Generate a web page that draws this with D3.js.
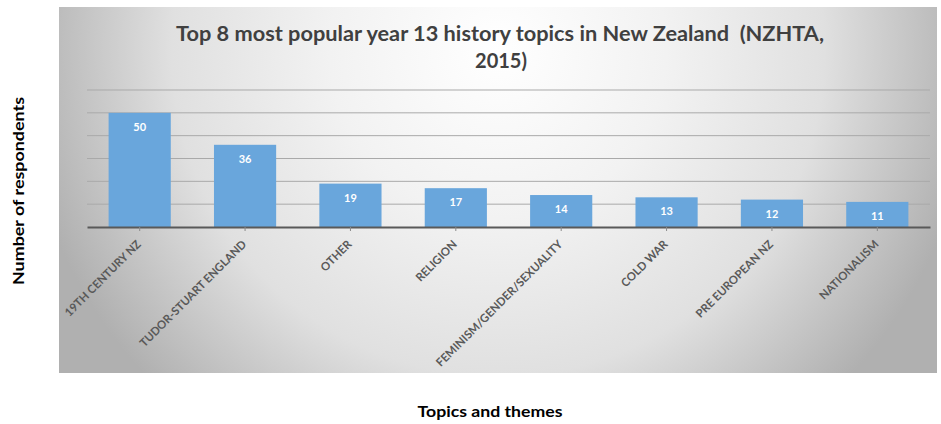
<!DOCTYPE html>
<html>
<head>
<meta charset="utf-8">
<script src="https://cdn.jsdelivr.net/npm/d3@7"></script>
<style>
  body { margin: 0; background: #fff; }
  svg { display: block; font-family: Lato, "Open Sans", sans-serif; }
</style>
</head>
<body>
<svg></svg>
<script>
var topics = ["19TH CENTURY NZ", "TUDOR-STUART ENGLAND", "OTHER", "RELIGION",
  "FEMINISM/GENDER/SEXUALITY", "COLD WAR", "PRE EUROPEAN NZ", "NATIONALISM"];
var respondents = [50, 36, 19, 17, 14, 13, 12, 11];
var gridValues = [10, 20, 30, 40, 50, 60];

var data = topics.map(function(t, i){ return {topic: t, value: respondents[i]}; });

var width = 941, height = 424;
var panel = {x: 59, y: 7, w: 878, h: 366};
var plot = {left: 87, right: 930, top: 90, bottom: 227};

var svg = d3.select("svg").attr("width", width).attr("height", height);

var defs = svg.append("defs");
var grad = defs.append("radialGradient").attr("id", "bg")
  .attr("gradientUnits", "userSpaceOnUse")
  .attr("cx", 498).attr("cy", 50).attr("r", 480);
grad.append("stop").attr("offset", "0%").attr("stop-color", "#ffffff");
grad.append("stop").attr("offset", "35%").attr("stop-color", "#f2f2f2");
grad.append("stop").attr("offset", "68%").attr("stop-color", "#e0e0e0");
grad.append("stop").attr("offset", "100%").attr("stop-color", "#b0b0b0");

svg.append("rect")
  .attr("x", panel.x).attr("y", panel.y)
  .attr("width", panel.w).attr("height", panel.h)
  .attr("fill", "url(#bg)");

var x = d3.scaleBand()
  .domain(topics)
  .range([plot.left, plot.right])
  .paddingInner(0.41)
  .paddingOuter(0.205);

var y = d3.scaleLinear()
  .domain([0, 60])
  .range([plot.bottom, plot.top]);

// gridlines
svg.append("g")
  .selectAll("line")
  .data(gridValues)
  .enter()
  .append("line")
  .attr("x1", plot.left).attr("x2", plot.right)
  .attr("y1", function(d){ return y(d); })
  .attr("y2", function(d){ return y(d); })
  .attr("stroke", "#a9a9a9")
  .attr("stroke-width", 1);

// bars
svg.selectAll("rect.bar")
  .data(data)
  .enter()
  .append("rect")
  .attr("class", "bar")
  .attr("x", function(d){ return x(d.topic); })
  .attr("y", function(d){ return y(d.value); })
  .attr("width", x.bandwidth())
  .attr("height", function(d){ return y(0) - y(d.value); })
  .attr("fill", "#69a6dc");

// value labels
svg.selectAll("text.val")
  .data(data)
  .enter()
  .append("text")
  .attr("class", "val")
  .text(function(d){ return d.value; })
  .attr("x", function(d){ return x(d.topic) + x.bandwidth() / 2; })
  .attr("y", function(d){ return y(d.value) + 18; })
  .attr("text-anchor", "middle")
  .attr("font-size", "11")
  .attr("font-weight", "bold")
  .attr("fill", "#ffffff");

// x axis
var xAxis = svg.append("g")
  .attr("transform", "translate(0," + plot.bottom + ")")
  .call(d3.axisBottom(x).tickSize(4).tickSizeOuter(0));
xAxis.select(".domain").attr("stroke", "#595959").attr("stroke-width", 2);
xAxis.selectAll(".tick line").attr("stroke", "#8a8a8a");
xAxis.selectAll(".tick text")
  .attr("font-family", "Lato, sans-serif")
  .attr("font-size", "11.4")
  .attr("font-weight", "bold")
  .attr("fill", "#595959")
  .attr("text-anchor", "end")
  .attr("dy", null)
  .attr("y", 0)
  .attr("transform", "translate(2,18) rotate(-45)");

// title
var title = svg.append("text")
  .attr("text-anchor", "middle")
  .attr("font-size", "20")
  .attr("font-weight", "bold")
  .attr("fill", "#404040")
  .attr("xml:space", "preserve")
  .style("white-space", "pre");
title.append("tspan").attr("x", 500).attr("y", 41)
  .attr("textLength", 648).attr("lengthAdjust", "spacingAndGlyphs")
  .text("Top 8 most popular year 13 history topics in New Zealand  (NZHTA,");
title.append("tspan").attr("x", 501).attr("y", 68).text("2015)");

// axis titles
svg.append("text")
  .attr("transform", "translate(24,191) rotate(-90)")
  .attr("text-anchor", "middle")
  .attr("font-size", "16")
  .attr("font-weight", "bold")
  .attr("fill", "#000")
  .attr("textLength", 188).attr("lengthAdjust", "spacingAndGlyphs")
  .text("Number of respondents");

svg.append("text")
  .attr("x", 490).attr("y", 417)
  .attr("text-anchor", "middle")
  .attr("font-size", "16")
  .attr("font-weight", "bold")
  .attr("fill", "#000")
  .attr("textLength", 145).attr("lengthAdjust", "spacingAndGlyphs")
  .text("Topics and themes");
</script>
</body>
</html>
